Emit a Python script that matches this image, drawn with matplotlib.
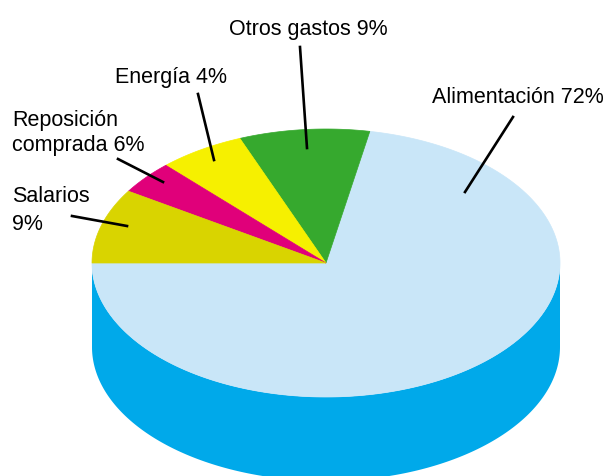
import numpy as np
import matplotlib

matplotlib.use("Agg")

import matplotlib.pyplot as plt
from matplotlib.patches import Polygon

# slices, counter-clockwise from the left edge of the pie
categories = ["Alimentación", "Otros gastos", "Energía", "Reposición\ncomprada", "Salarios"]
shares = [72, 9, 6, 4, 9]          # slice sizes as drawn
printed_pct = [72, 9, 4, 6, 9]     # percentages as printed on the labels
top_colors = ["#c9e6f8", "#36a92e", "#f6f000", "#e0007a", "#d9d400"]
side_color = "#00a9ea"

# label layout: baseline of last line, alignment, line spacing, leader line
label_text = [
    "Alimentación 72%",
    "Otros gastos 9%",
    "Energía 4%",
    "Reposición\ncomprada 6%",
    "Salarios\n9%",
]
label_pos = [(604, 103, "right", 1.0), (308, 35, "center", 1.0),
             (171, 83, "center", 1.0), (12, 151, "left", 1.28),
             (12, 230, "left", 1.46)]
leader_lines = [((513, 117), (465, 192)), ((300, 47), (307, 148)),
                ((198, 94), (214, 160)), ((118, 159), (163, 182)),
                ((72, 216), (127, 226))]

cx, cy, rx, ry, depth = 326, 263, 234, 134, 84
start_angle = 180.0

fig = plt.figure(figsize=(6.08, 4.76), dpi=100)
ax = fig.add_axes([0, 0, 1, 1])
ax.set_xlim(0, 608)
ax.set_ylim(476, 0)
ax.axis("off")


def rim(t, drop=0.0):
    return np.column_stack([cx + rx * np.cos(t), cy - ry * np.sin(t) + drop])


# side wall: only the front half is visible
t_front = np.radians(np.linspace(180, 360, 200))
side = np.vstack([rim(t_front), rim(t_front[::-1], depth)])
ax.add_patch(Polygon(side, closed=True, facecolor=side_color, edgecolor="none", zorder=1))

# top face wedges
angle = start_angle
for share, color in zip(shares, top_colors):
    span = share / sum(shares) * 360.0
    t = np.radians(np.linspace(angle, angle + span, max(int(span), 2) * 2))
    pts = np.vstack([[cx, cy], rim(t)])
    ax.add_patch(Polygon(pts, closed=True, facecolor=color, edgecolor=color,
                         linewidth=0.5, zorder=2))
    angle += span

font = ["Liberation Sans", "DejaVu Sans"]
for text, (x, y, ha, ls), (p0, p1) in zip(label_text, label_pos, leader_lines):
    ax.text(x, y, text, ha=ha, va="baseline", fontsize=15.5, family=font,
            linespacing=ls, zorder=4)
    ax.plot([p0[0], p1[0]], [p0[1], p1[1]], color="black", linewidth=1.9, zorder=3)

fig.savefig("out.png", dpi=100)
plt.close(fig)
